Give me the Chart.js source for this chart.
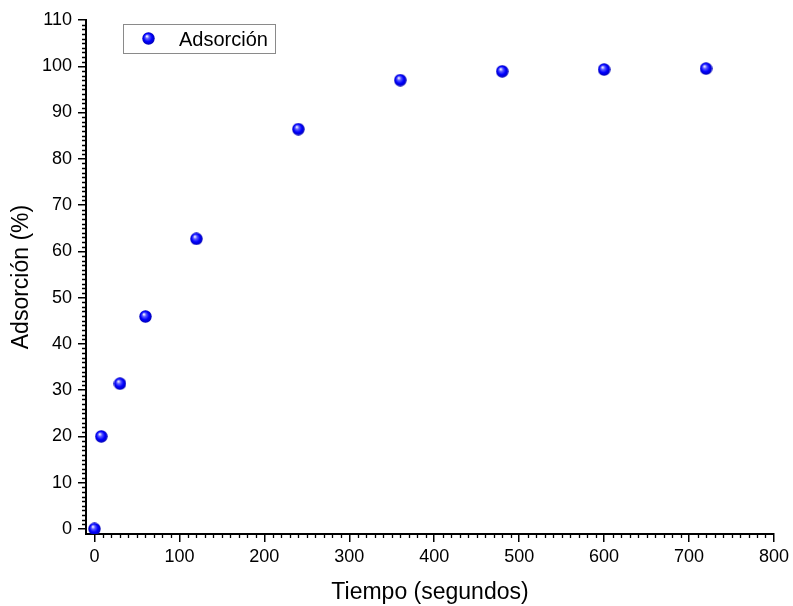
<!DOCTYPE html>
<html>
<head>
<meta charset="utf-8">
<script src="https://cdn.jsdelivr.net/npm/chart.js@4/dist/chart.umd.min.js"></script>
<style>
  body { margin: 0; background: #fff; }
  #wrap { width: 793px; height: 606px; }
</style>
</head>
<body>
<div id="wrap"><canvas id="adsChart" width="793" height="606"></canvas></div>
<script>
// data
const tiempo = [0, 8, 30, 60, 120, 240, 360, 480, 600, 720];
const adsorcion = [0, 20, 31.4, 45.9, 62.7, 86.4, 97.0, 98.9, 99.3, 99.5];
const xTicks = [0, 100, 200, 300, 400, 500, 600, 700, 800];
const yTicks = [0, 10, 20, 30, 40, 50, 60, 70, 80, 90, 100, 110];

const FONT = "'Liberation Sans', Arial, sans-serif";

// shaded blue ball used for the markers
function makeBall(d) {
    const c = document.createElement('canvas');
    c.width = d; c.height = d;
    const g = c.getContext('2d');
    const r = d / 2;
    const grad = g.createRadialGradient(r * 0.75, r * 0.65, 0.5, r, r, r);
    grad.addColorStop(0, '#e8e8ff');
    grad.addColorStop(0.25, '#5a5aff');
    grad.addColorStop(0.6, '#0000ff');
    grad.addColorStop(1, '#0000b0');
    g.fillStyle = grad;
    g.beginPath();
    g.arc(r, r, r - 0.3, 0, Math.PI * 2);
    g.fill();
    return c;
}
const ball = makeBall(13);

// minor ticks + boxed legend
const extras = {
    id: 'extras',
    afterDraw(chart) {
        const ctx = chart.ctx;
        const xs = chart.scales.x, ys = chart.scales.y;
        ctx.save();
        ctx.strokeStyle = '#000';
        ctx.lineWidth = 1.3;
        ctx.beginPath();
        for (let v = 0; v <= 110; v++) {
            if (v % 10 === 0) continue;
            const py = Math.round(ys.getPixelForValue(v)) + 0.5;
            ctx.moveTo(xs.left - 4, py);
            ctx.lineTo(xs.left, py);
        }
        for (let v = 0; v <= 800; v += 10) {
            if (v % 100 === 0) continue;
            const px = Math.round(xs.getPixelForValue(v)) + 0.5;
            ctx.moveTo(px, ys.bottom);
            ctx.lineTo(px, ys.bottom + 4);
        }
        ctx.stroke();

        // legend box
        ctx.strokeStyle = '#8a8a8a';
        ctx.lineWidth = 1;
        ctx.strokeRect(123.5, 24.5, 152, 29);
        ctx.drawImage(ball, 142, 32);
        ctx.fillStyle = '#000';
        ctx.font = '20px ' + FONT;
        ctx.textBaseline = 'middle';
        ctx.fillText(chart.data.datasets[0].label, 179, 40);
        ctx.restore();
    }
};

new Chart(document.getElementById('adsChart'), {
    type: 'scatter',
    data: {
        datasets: [{
            label: 'Adsorción',
            data: tiempo.map((t, i) => ({ x: t, y: adsorcion[i] })),
            pointStyle: ball,
            pointRadius: 6.5
        }]
    },
    options: {
        responsive: false,
        animation: false,
        layout: { padding: { top: 20, right: 17, bottom: 0, left: 0 } },
        plugins: {
            legend: { display: false },
            tooltip: { enabled: false }
        },
        scales: {
            x: {
                type: 'linear',
                min: -10,
                max: 800,
                afterBuildTicks: s => { s.ticks = xTicks.map(v => ({ value: v })); },
                afterFit: s => { s.height = 72; },
                border: { display: true, color: '#000', width: 2 },
                grid: { drawOnChartArea: false, drawTicks: true, tickLength: 8, tickColor: '#000', lineWidth: 1.5 },
                ticks: { color: '#000', padding: 4, font: { family: FONT, size: 18 }, maxRotation: 0 },
                title: { display: true, text: 'Tiempo (segundos)', color: '#000', padding: { top: 2, bottom: 0 }, font: { family: FONT, size: 23 } }
            },
            y: {
                type: 'linear',
                min: -1.1,
                max: 110,
                afterBuildTicks: s => { s.ticks = yTicks.map(v => ({ value: v })); },
                afterFit: s => { s.width = 86; },
                border: { display: true, color: '#000', width: 2 },
                grid: { drawOnChartArea: false, drawTicks: true, tickLength: 8, tickColor: '#000', lineWidth: 1.5 },
                ticks: { color: '#000', padding: 6, font: { family: FONT, size: 18 } },
                title: { display: true, text: 'Adsorción (%)', color: '#000', padding: { top: 8, bottom: 2 }, font: { family: FONT, size: 23 } }
            }
        }
    },
    plugins: [extras]
});
</script>
</body>
</html>
